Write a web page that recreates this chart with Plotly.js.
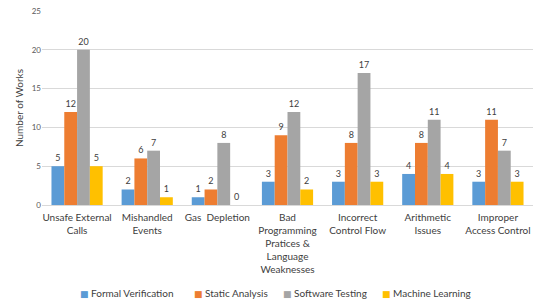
<!DOCTYPE html>
<html>
<head>
<meta charset="utf-8">
<script src="https://cdn.plot.ly/plotly-3.0.1.min.js"></script>
<style>html,body{margin:0;padding:0;background:#fff;}#chart{width:544px;height:308px;}</style>
</head>
<body>
<div id="chart"></div>
<script>
const categories = [
  "Unsafe External<br>Calls",
  "Mishandled<br>Events",
  "Gas  Depletion",
  "Bad<br>Programming<br>Pratices &<br>Language<br>Weaknesses",
  "Incorrect<br>Control Flow",
  "Arithmetic<br>Issues",
  "Improper<br>Access Control"
];
const seriesNames = ["Formal Verification", "Static Analysis", "Software Testing", "Machine Learning"];
const formalVerification = [5, 2, 1, 3, 3, 4, 3];
const staticAnalysis = [12, 6, 2, 9, 8, 8, 11];
const softwareTesting = [20, 7, 8, 12, 17, 11, 7];
const machineLearning = [5, 1, 0, 2, 3, 4, 3];
const colors = ["#5B9BD5", "#ED7D31", "#A5A5A5", "#FFC000"];
const allValues = [formalVerification, staticAnalysis, softwareTesting, machineLearning];

const font = "Lato, 'Open Sans', sans-serif";
const traces = allValues.map((vals, i) => ({
  type: "bar",
  name: seriesNames[i],
  x: categories,
  y: vals,
  marker: {color: colors[i]},
  text: vals.map(String),
  textposition: "outside",
  cliponaxis: false,
  textfont: {family: font, size: 9, color: "#404040"},
  hoverinfo: "none",
  showlegend: false
}));

// legend drawn as text annotations (coloured square + series name)
const legendX = [0.0733, 0.3055, 0.4868, 0.6884];
const legendAnnotations = seriesNames.map((n, i) => ({
  xref: "paper", yref: "paper",
  x: legendX[i], y: -0.454, xanchor: "left", yanchor: "middle",
  showarrow: false,
  text: '<span style="color:' + colors[i] + ';font-size:9px;font-family:DejaVu Sans">■</span> ' + n,
  font: {family: font, size: 10, color: "#404040"}
}));

const layout = {
  width: 544, height: 308,
  margin: {l: 42, r: 11, t: 11, b: 103},
  paper_bgcolor: "#fff", plot_bgcolor: "#fff",
  barmode: "group",
  bargap: 0.27,
  bargroupgap: 0,
  font: {family: font, size: 10, color: "#404040"},
  xaxis: {
    tickfont: {family: font, size: 10, color: "#404040"},
    showline: true, linecolor: "#D9D9D9", linewidth: 1,
    ticks: "", showgrid: false, tickangle: 0, automargin: false,
    ticklabelstandoff: 3
  },
  yaxis: {
    range: [0, 25], dtick: 5,
    showgrid: true, gridcolor: "#D9D9D9", gridwidth: 1,
    zeroline: false, showline: false,
    tickfont: {family: font, size: 8, color: "#595959"},
    ticks: "", ticklen: 0, automargin: false,
    title: {text: "Number of Works", font: {family: font, size: 10, color: "#404040"}, standoff: 6}
  },
  showlegend: false,
  annotations: legendAnnotations
};
Plotly.newPlot("chart", traces, layout, {staticPlot: true, displayModeBar: false});
</script>
</body>
</html>
